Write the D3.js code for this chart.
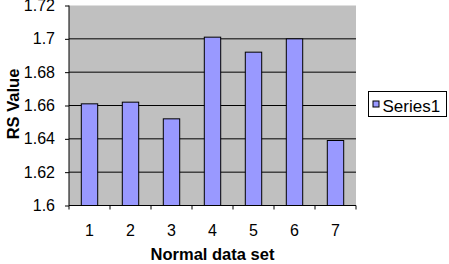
<!DOCTYPE html>
<html>
<head>
<meta charset="utf-8">
<script src="https://cdn.jsdelivr.net/npm/d3@7"></script>
<style>
  body { margin: 0; background: #fff; }
  text { font-family: "Liberation Sans", Arial, sans-serif; }
</style>
</head>
<body>
<div id="chart"></div>
<script>
// Data
var categories = ["1", "2", "3", "4", "5", "6", "7"];
var values = [1.661, 1.662, 1.652, 1.701, 1.692, 1.700, 1.639];
var yTicks = [1.6, 1.62, 1.64, 1.66, 1.68, 1.7, 1.72];
var seriesName = "Series1";

var W = 449, H = 264;
var margin = { top: 5.5, right: 93, bottom: 58.5, left: 69 },
    width = W - margin.left - margin.right,
    height = H - margin.top - margin.bottom;

var svg = d3.select("#chart")
    .append("svg")
    .attr("width", W)
    .attr("height", H);

var g = svg.append("g")
    .attr("transform", "translate(" + margin.left + "," + margin.top + ")");

// Grey plot area
g.append("rect")
    .attr("width", width)
    .attr("height", height)
    .style("fill", "#c0c0c0");

var x = d3.scaleBand()
    .domain(categories)
    .range([0, width]);

var y = d3.scaleLinear()
    .domain([1.6, 1.72])
    .range([height, 0]);

// Gridlines
g.append("g")
    .selectAll("line")
    .data(yTicks.slice(1, -1))
    .enter()
    .append("line")
    .attr("x1", 0)
    .attr("x2", width)
    .attr("y1", d => y(d))
    .attr("y2", d => y(d))
    .style("stroke", "#000")
    .style("stroke-width", 1);

// Bars
var bw = x.bandwidth() / 2.5;
g.append("g")
    .selectAll("rect")
    .data(values)
    .enter()
    .append("rect")
    .attr("x", (d, i) => x(categories[i]) + (x.bandwidth() - bw) / 2)
    .attr("y", d => y(d))
    .attr("width", bw)
    .attr("height", d => height - y(d))
    .style("fill", "#9999ff")
    .style("stroke", "#000")
    .style("stroke-width", 1);

// Y axis
var yAxis = g.append("g")
    .call(d3.axisLeft(y).tickValues(yTicks).tickSize(4).tickPadding(10)
        .tickFormat(d => String(+d.toFixed(2))));
yAxis.select(".domain").attr("d", "M0,0V" + height).style("stroke", "#000");
yAxis.selectAll("text")
    .style("font-size", "16px")
    .style("font-family", "Liberation Sans, Arial, sans-serif")
    .attr("fill", "#000");

// X axis: ticks between categories
var xAxis = g.append("g")
    .attr("transform", "translate(0," + height + ")");
xAxis.append("line")
    .attr("x1", 0).attr("x2", width)
    .style("stroke", "#000");
xAxis.selectAll("line.tk")
    .data(d3.range(categories.length + 1))
    .enter()
    .append("line")
    .attr("class", "tk")
    .attr("x1", d => d * x.step())
    .attr("x2", d => d * x.step())
    .attr("y1", 0).attr("y2", 4)
    .style("stroke", "#000");
xAxis.selectAll("text")
    .data(categories)
    .enter()
    .append("text")
    .attr("x", d => x(d) + x.bandwidth() / 2)
    .attr("y", 30)
    .attr("text-anchor", "middle")
    .style("font-size", "16px")
    .text(d => d);

// Axis titles
svg.append("text")
    .attr("text-anchor", "middle")
    .attr("x", margin.left + width / 2)
    .attr("y", 260)
    .style("font-size", "16.5px")
    .style("font-weight", "bold")
    .text("Normal data set");

svg.append("text")
    .attr("text-anchor", "middle")
    .attr("transform", "translate(19,104) rotate(-90)")
    .style("font-size", "16.5px")
    .style("font-weight", "bold")
    .text("RS Value");

// Legend
var lg = svg.append("g").attr("transform", "translate(368.5,91.5)");
lg.append("rect")
    .attr("width", 78)
    .attr("height", 25)
    .style("fill", "#fff")
    .style("stroke", "#000");
lg.append("rect")
    .attr("x", 4.5).attr("y", 9.5)
    .attr("width", 6).attr("height", 6)
    .style("fill", "#9999ff")
    .style("stroke", "#000");
lg.append("text")
    .attr("x", 14)
    .attr("y", 20)
    .style("font-size", "17px")
    .text(seriesName);
</script>
</body>
</html>
